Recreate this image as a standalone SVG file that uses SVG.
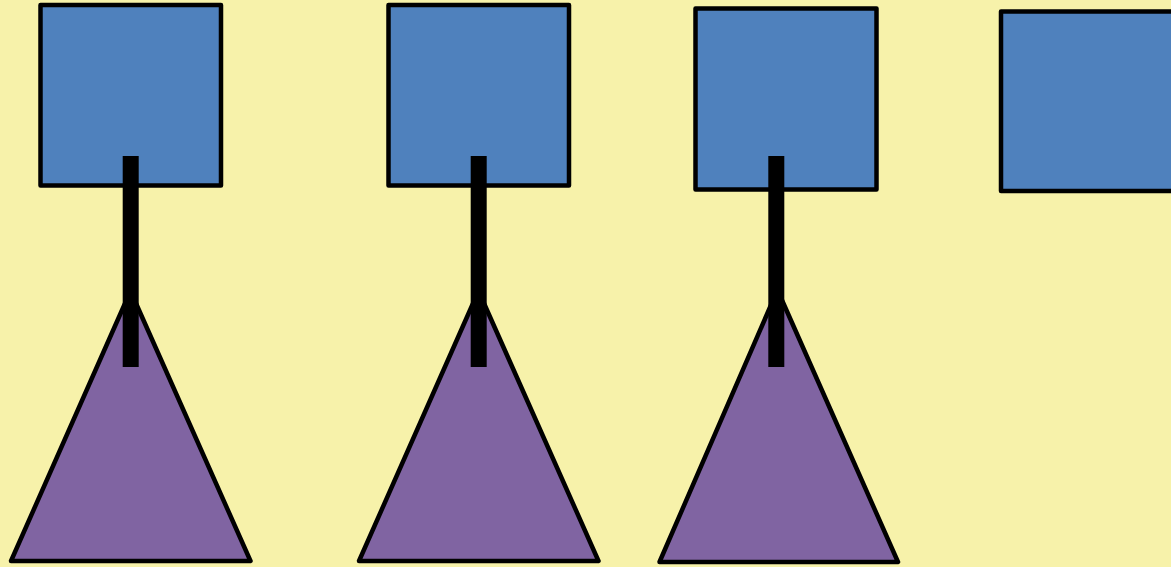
<svg xmlns="http://www.w3.org/2000/svg" width="1171" height="567" viewBox="0 0 1171 567">
<style>
.sq{fill:#4F81BD;stroke:#000;stroke-width:4.5;stroke-linejoin:round}
.tri{fill:#8064A2;stroke:#000;stroke-width:4.5;stroke-linejoin:round}
.conn{fill:#000}
</style>
<rect width="1171" height="567" fill="#F7F2AA"/>
<g id="square1"><rect class="sq" x="40.5" y="5" width="180.5" height="180.5"/></g>
<g id="square2"><rect class="sq" x="388.5" y="5" width="180.5" height="180.5"/></g>
<g id="square3"><rect class="sq" x="695.5" y="8.5" width="181" height="181"/></g>
<g id="square4"><rect class="sq" x="1001" y="11.5" width="200" height="179.5"/></g>
<g id="triangle1"><polygon class="tri" points="130.5,291 250.5,561 11,561"/></g>
<g id="triangle2"><polygon class="tri" points="478.5,291 598.5,561 359,561"/></g>
<g id="triangle3"><polygon class="tri" points="777.5,290 898,562 659.5,562"/></g>
<g id="connectors">
<rect class="conn" x="122.7" y="156" width="16" height="211"/>
<rect class="conn" x="470.7" y="156" width="16" height="211"/>
<rect class="conn" x="768.3" y="156" width="16" height="211"/>
</g>
</svg>
